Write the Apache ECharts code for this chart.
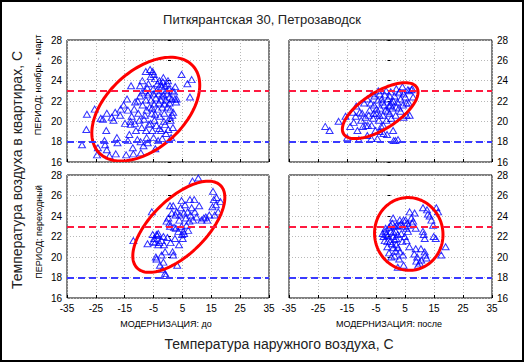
<!DOCTYPE html>
<html><head><meta charset="utf-8">
<script src="https://cdn.jsdelivr.net/npm/echarts@6/dist/echarts.min.js"></script>
<style>html,body{margin:0;padding:0;background:#fff}#c{width:524px;height:362px}</style>
</head><body><div id="c"></div>
<script>
const chartTitle = 'Питкярантская 30, Петрозаводск';
const yTitle = 'Температура воздуха в квартирах, С';
const xTitle = 'Температура наружного воздуха, С';
const rowLabels = ['ПЕРИОД: ноябрь - март', 'ПЕРИОД: переходный'];
const colLabels = ['МОДЕРНИЗАЦИЯ: до', 'МОДЕРНИЗАЦИЯ: после'];
const xRange = [-35, 35, 10];
const yRange = [16, 28, 2];
const upperLimit = 23;
const lowerLimit = 18;

// top-left: ноябрь-март, до
const dataTL = [
[-29.8,17.7],[-28.3,19.2],[-28.1,20.7],[-25.4,21.2],[-24.3,17.4],[-24.6,16.7],[-23.3,20.3],[-22.6,20.2],
[-22,18.1],[-21.8,17.7],[-21.4,19.1],[-21.2,17.2],[-20.3,16.6],[-21.2,20.8],[-19.5,20.4],[-18.9,20.1],
[-18.3,20.9],[-17.7,18.4],[-17.5,17.9],[-18.1,16.8],[-16.6,20.6],[-16.4,21.2],[-15.4,21.6],[-14.9,19.8],
[-14.5,16.7],[-13.9,21.1],[-13.9,18.1],[-13.4,18.7],[-12.9,19.7],[-12.8,23.5],[-12.6,20.5],[-12.2,17.4],
[-12,16.8],[-11.7,21.2],[-11.4,21.9],[-11.1,19.1],[-10.6,18.2],[-10.3,20.8],[-9.9,20.1],[-9.7,23.5],
[-9.7,22.5],[-9.4,16.9],[-9.1,19.4],[-8.9,24.0],[-8.8,21.6],[-8.5,17.6],[-8.3,20.2],[-8,23.0],
[-7.7,24.9],[-7.6,22.1],[-7.6,19.1],[-7.4,21.1],[-7.4,18.4],[-7.0,22.6],[-6.8,23.7],[-6.6,19.7],
[-6.3,21.4],[-6.2,25.1],[-6.0,24.4],[-5.9,22.1],[-5.6,20.8],[-5.4,19.1],[-5.3,24.9],[-5.1,23.2],
[-5.1,22.7],[-4.8,21.7],[-4.7,20.1],[-4.5,24.2],[-4.4,17.3],[-4.2,22.3],[-4.0,19.6],[-3.7,23.7],
[-3.5,21.2],[-3.4,18.1],[-3.1,22.7],[-3.0,24.0],[-2.8,20.5],[-2.5,22.1],[-2.4,19.1],[-2.2,23.4],
[-2.0,21.4],[-1.8,23.9],[-1.6,22.6],[-1.4,20.0],[-1.3,20.8],[-1.0,23.5],[-0.8,22.1],[-0.7,18.8],
[-0.5,23.0],[-0.2,23.7],[-0.1,21.4],[0.1,19.2],[0.3,23.2],[0.5,22.4],[0.7,20.4],[0.9,20.1],
[1.1,18.4],[1.3,22.2],[1.5,23.0],[1.7,19.4],[1.8,20.9],[2.1,22.9],[2.4,22.2],[2.8,21.9],
[3.0,22.2],[4.7,24.6],[6.7,23.7],[8.2,24.1],[7.6,22.4],
[-6.5,22.8],[-5.5,21.3],[-4.0,23.0],[-3.2,21.8],[-2.2,22.5],[-1.2,21.7],[-0.3,22.7],[0.8,21.2],
[-7.2,23.3],[-4.9,24.6],[-2.6,23.6],[-1.6,24.3],[0.0,24.0],[-9.0,22.8],[-10.5,22.0],[-8.0,20.6],
[-6.0,19.8],[-4.5,20.7],[-3.0,19.3],[-1.0,19.7],[-2.0,18.3],[-5.0,18.4],[-9.5,18.0],[-11.5,19.8],
[-13.0,20.0],[-14.2,22.2],[-7.0,17.9],[0.5,21.8],[1.5,20.6],[2.5,23.4]
];

// top-right: ноябрь-март, после
const dataTR = [
[-22.5,19.5],[-21.0,19.1],[-17.9,20.0],[-15.5,20.5],[-14.9,18.4],[-13.9,19.5],[-12.7,19.9],[-11.8,21.5],
[-10.9,18.2],[-11.4,19.1],[-10.6,20.9],[-10.1,20.1],[-9.5,19.5],[-9.1,21.8],[-8.6,20.4],[-8.0,22.2],
[-7.8,19.6],[-7.2,21.1],[-6.6,18.3],[-6.3,22.7],[-6.0,20.3],[-5.7,21.6],[-5.2,19.1],[-4.9,20.8],
[-4.5,18.3],[-4.3,22.1],[-4.0,20.1],[-3.7,22.7],[-3.5,21.3],[-3.2,19.5],[-2.8,21.9],[-2.6,20.6],
[-2.4,18.8],[-2.0,22.6],[-1.7,21.1],[-1.4,20.1],[-1.2,18.7],[-0.9,22.2],[-0.5,21.5],[-0.3,20.8],
[0.1,22.9],[0.3,21.9],[0.6,21.3],[0.9,19.1],[1.1,18.1],[1.7,18.1],[2.6,18.2],[1.4,22.5],
[1.8,20.6],[2.0,23.2],[2.4,21.9],[2.9,21.3],[3.2,22.9],[3.5,22.2],[4.1,23.4],[4.3,21.6],
[4.5,22.7],[5.1,22.4],[5.5,21.8],[6.0,23.1],[6.4,23.0],[7.2,23.1],[7.5,23.2],[5.5,20.6],
[4.5,20.4],[6.6,20.6],[6.3,21.8],[7.8,22.4],
[-7.5,20.6],[-6.8,21.8],[-5.5,22.5],[-4.8,21.2],[-3.8,20.6],[-3.0,22.2],[-2.2,21.6],[-1.0,21.0],
[0.0,21.6],[1.0,22.0],[2.0,21.4],[-8.5,19.6],[-6.5,19.6],[-5.8,20.8],[-9.8,20.8],[-12.0,20.5],
[-2.5,19.6],[0.3,20.3],[3.5,21.0],[-1.5,23.0],[-0.3,22.5],[2.8,22.8],[-4.2,23.0],[-8.0,18.6],
[-3.7,19.0],[-13.0,20.9]
];

// bottom-left: переходный, до
const dataBL = [
[-12.0,21.6],[-7.1,21.3],[-5.6,24.4],[-5.1,21.5],[-4.8,21.8],[-5.3,22.2],[-4.5,21.4],[-4.2,20.0],
[-4.0,19.8],[-3.7,22.1],[-3.4,22.3],[-3.0,21.4],[-2.8,19.2],[-2.2,21.6],[-2.0,18.8],[-1.6,22.0],
[-1.4,21.2],[-1.0,18.4],[-0.8,18.2],[-0.5,23.5],[-0.2,21.9],[0.1,23.8],[0.5,23.3],[0.7,23.0],
[0.9,21.4],[1.3,24.3],[1.6,20.5],[1.8,20.2],[2.1,22.9],[2.4,21.8],[2.6,24.1],[3.0,24.4],
[3.2,19.2],[3.6,22.5],[3.8,21.2],[4.1,24.1],[4.4,24.8],[4.7,23.0],[4.9,22.2],[5.3,22.5],
[5.5,24.3],[5.9,25.1],[6.2,23.8],[6.4,23.1],[6.8,24.4],[7.0,22.6],[7.4,23.5],[7.6,25.6],
[7.8,24.1],[8.2,24.8],[8.5,27.4],[8.7,23.6],[9.1,25.6],[9.3,24.4],[9.9,23.9],[10.5,27.7],
[10.8,25.0],[11.6,23.6],[12.4,23.8],[13.1,23.9],[13.6,23.6],[14.3,24.1],[15.6,26.4],[15.9,25.6],
[16.2,24.1],[16.6,25.1],[16.8,25.8],[17.4,24.4],[18.2,25.4],[15.4,24.9],[-1.0,20.5],[-2.2,20.2],
[-1.6,19.5],[-4.0,22.2],[-3.4,21.2],[1.8,25.0],[2.7,22.8],[0.7,25.0],[4.7,25.5],[3.9,23.6],
[5.6,22.3],[5.1,21.8]
];

// bottom-right: переходный, после
const dataBR = [
[-1.7,22.8],[-2.4,22.0],[-1.1,21.5],[-0.9,22.1],[0.1,22.5],[0.9,23.8],[0.6,23.3],[0.3,20.0],
[0.9,22.0],[1.4,21.7],[2.0,21.2],[2.6,20.9],[3.2,20.5],[3.7,22.3],[4.1,21.5],[4.3,20.2],
[4.5,19.2],[4.9,22.0],[5.2,23.6],[5.5,22.8],[5.7,23.3],[6.0,22.5],[6.3,23.1],[6.6,24.4],
[7.2,23.8],[7.5,23.3],[7.8,23.5],[8.3,24.3],[8.7,22.8],[8.9,19.6],[9.5,19.2],[10.1,19.4],
[10.6,19.7],[11.2,24.8],[11.4,22.2],[11.8,20.5],[12.0,20.2],[12.4,19.9],[12.6,24.6],[12.9,24.2],
[13.5,24.0],[14.1,23.6],[14.7,23.1],[14.9,22.0],[15.6,21.8],[15.8,24.8],[16.4,24.4],[17.5,20.2],
[19.0,21.0],[8.7,20.8],[8.2,20.3],[11.2,22.5],[11.8,21.8],[2.9,23.1],[1.8,22.5],[-0.2,21.5],
[-1.1,21.0],[-1.8,22.5],[0.9,20.9],[4.3,23.0],[3.2,23.6],[2.2,23.1],[1.4,20.1],
[-2.0,21.6],[-1.5,22.2],[-0.5,22.9],[0.5,21.3],[1.5,23.0],[2.5,22.2],[3.5,23.2],[4.5,23.6],
[-2.7,22.3],[0.0,23.1],[1.0,22.4],[2.0,21.8],[5.5,21.6],[6.5,21.0],[3.0,19.8],[1.8,20.6],
[-0.5,20.4],[2.5,19.0],[9.2,20.0],[10.5,20.8]
];

// ellipses: [centerX, centerY, halfWidthX, halfHeightY, correlation]
const ellipseTL = [-7.7, 21.2, 18.7, 5.1, 0.46];
const ellipseTR = [-3.55, 21.05, 13.05, 2.75, 0.66];
const ellipseBL = [3.75, 22.95, 15.95, 4.45, 0.64];
const ellipseBR = [6.3, 22.25, 11.8, 3.55, -0.02];

const FONT = '"Liberation Sans", Arial, sans-serif';
const grids = [
  {left: 67, top: 40, width: 202, height: 122},
  {left: 289, top: 40, width: 203, height: 122},
  {left: 67, top: 175, width: 202, height: 123},
  {left: 289, top: 175, width: 203, height: 123}
];
const panelData = [dataTL, dataTR, dataBL, dataBR];
const panelEll = [ellipseTL, ellipseTR, ellipseBL, ellipseBR];

function renderEllipse(params, api) {
  const cx = api.value(0), cy = api.value(1), W = api.value(2), H = api.value(3), r = api.value(4);
  const s = Math.sqrt(1 - r * r);
  const pts = [];
  for (let i = 0; i < 120; i++) {
    const t = i / 120 * 2 * Math.PI;
    pts.push(api.coord([cx + W * Math.cos(t), cy + H * (r * Math.cos(t) + s * Math.sin(t))]));
  }
  return {type: 'polygon', shape: {points: pts},
    style: {fill: 'none', stroke: '#ff0000', lineWidth: 3}};
}

const xAxes = [], yAxes = [], series = [];
grids.forEach((g, i) => {
  const bottom = i >= 2, right = i % 2 === 1;
  xAxes.push({gridIndex: i, type: 'value', min: xRange[0], max: xRange[1], interval: xRange[2],
    axisLine: {show: false}, axisTick: {show: true, inside: true, length: 3, lineStyle: {color: '#000'}},
    splitLine: {show: true, lineStyle: {color: '#b8b8b8', type: [1, 2], width: 1}},
    axisLabel: {show: bottom, color: '#000', fontSize: 10, fontFamily: FONT, margin: 5}});
  yAxes.push({gridIndex: i, type: 'value', min: yRange[0], max: yRange[1], interval: yRange[2],
    position: right ? 'right' : 'left',
    axisLine: {show: false}, axisTick: {show: true, inside: true, length: 3, lineStyle: {color: '#000'}},
    splitLine: {show: true, lineStyle: {color: '#b8b8b8', type: [1, 2], width: 1}},
    axisLabel: {color: '#000', fontSize: 10, fontFamily: FONT, margin: 5}});
  series.push({type: 'scatter', xAxisIndex: i, yAxisIndex: i, data: panelData[i],
    symbol: 'triangle', symbolSize: [7, 6],
    itemStyle: {color: 'rgba(0,0,0,0)', borderColor: '#0000ff', borderWidth: 1},
    silent: true, z: 3,
    markLine: {silent: true, symbol: 'none', label: {show: false}, animation: false,
      data: [
        {yAxis: upperLimit, lineStyle: {color: '#ff1a40', type: [7, 4], width: 2}},
        {yAxis: lowerLimit, lineStyle: {color: '#3a3aff', type: [7, 4], width: 2}}
      ]}});
  series.push({type: 'custom', xAxisIndex: i, yAxisIndex: i, data: [panelEll[i]],
    renderItem: renderEllipse, clip: true, silent: true, z: 4,
    encode: {x: 0, y: 1}});
});

const chart = echarts.init(document.getElementById('c'), null, {renderer: 'svg'});
chart.setOption({
  animation: false,
  backgroundColor: '#fff',
  title: {text: chartTitle, left: 'center', top: 8,
    textStyle: {fontSize: 13, fontWeight: 'normal', color: '#222', fontFamily: FONT}},
  grid: grids.map(g => Object.assign({show: true, borderColor: '#000', borderWidth: 1, backgroundColor: '#fff'}, g)),
  xAxis: xAxes, yAxis: yAxes, series: series,
  graphic: [
    {type: 'rect', shape: {x: 1, y: 1, width: 522, height: 360}, style: {fill: 'none', stroke: '#000', lineWidth: 2}, silent: true},
    {type: 'text', x: 17, y: 170, rotation: Math.PI / 2, style: {text: yTitle, fontSize: 14, fill: '#222', fontFamily: FONT, align: 'center', verticalAlign: 'middle'}},
    {type: 'text', x: 38, y: 85, rotation: Math.PI / 2, style: {text: rowLabels[0], fontSize: 9, fill: '#000', fontFamily: FONT, align: 'center', verticalAlign: 'middle'}},
    {type: 'text', x: 39, y: 232, rotation: Math.PI / 2, style: {text: rowLabels[1], fontSize: 9, fill: '#000', fontFamily: FONT, align: 'center', verticalAlign: 'middle'}},
    {type: 'text', x: 166, y: 324, style: {text: colLabels[0], fontSize: 9, fill: '#000', fontFamily: FONT, align: 'center', verticalAlign: 'middle'}},
    {type: 'text', x: 389, y: 324, style: {text: colLabels[1], fontSize: 9, fill: '#000', fontFamily: FONT, align: 'center', verticalAlign: 'middle'}},
    {type: 'text', x: 279, y: 344, style: {text: xTitle, fontSize: 14, fill: '#222', fontFamily: FONT, align: 'center', verticalAlign: 'middle'}}
  ]
});
</script></body></html>
